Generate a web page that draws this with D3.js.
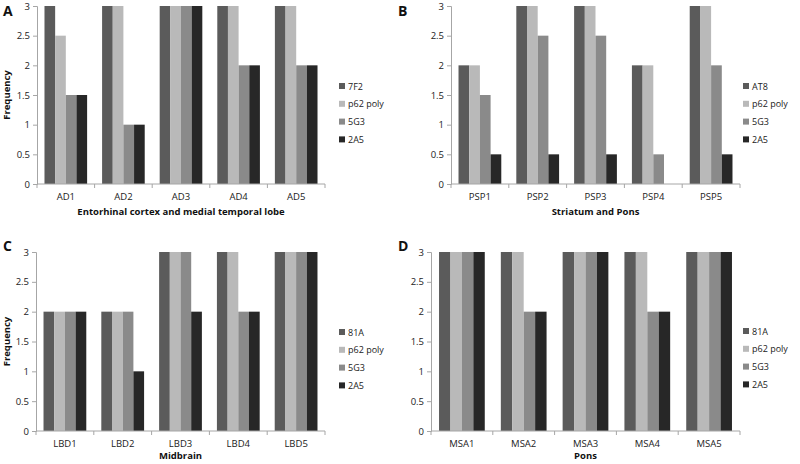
<!DOCTYPE html>
<html><head><meta charset="utf-8">
<script src="https://cdn.jsdelivr.net/npm/d3@7/dist/d3.min.js"></script>
<style>body{margin:0;background:#fff}svg{display:block}text{font-family:"Open Sans","Liberation Sans",Arial,sans-serif}</style>
</head><body><svg id="c" width="800" height="464"></svg>
<script>
// ---- data ----
const catsA = ["AD1","AD2","AD3","AD4","AD5"];
const catsB = ["PSP1","PSP2","PSP3","PSP4","PSP5"];
const catsC = ["LBD1","LBD2","LBD3","LBD4","LBD5"];
const catsD = ["MSA1","MSA2","MSA3","MSA4","MSA5"];
const seriesA = ["7F2","p62 poly","5G3","2A5"];
const seriesB = ["AT8","p62 poly","5G3","2A5"];
const seriesC = ["81A","p62 poly","5G3","2A5"];
const seriesD = ["81A","p62 poly","5G3","2A5"];
const valuesA = [[3,3,3,3,3],[2.5,3,3,3,3],[1.5,1,3,2,2],[1.5,1,3,2,2]];
const valuesB = [[2,3,3,2,3],[2,3,3,2,3],[1.5,2.5,2.5,0.5,2],[0.5,0.5,0.5,0,0.5]];
const valuesC = [[2,2,3,3,3],[2,2,3,3,3],[2,2,3,2,3],[2,1,2,2,3]];
const valuesD = [[3,3,3,3,3],[3,3,3,3,3],[3,2,3,2,3],[3,2,3,2,3]];
const yTicks = [0,0.5,1,1.5,2,2.5,3];
const titles = ["Entorhinal cortex and medial temporal lobe","Striatum and Pons","Midbrain","Pons"];
const letters = ["A","B","C","D"];
const colors = ["#5b5b5b","#b9b9b9","#8a8a8a","#272727"];

// ---- layout ----
const panels = [
  {cats:catsA, series:seriesA, values:valuesA, x0:37, x1:325, yT:6, yB:184, lx:339, ly:86, lt:[3,16], ylab:true, tOff:31},
  {cats:catsB, series:seriesB, values:valuesB, x0:451, x1:740, yT:6, yB:184, lx:743, ly:86, lt:[398,16], ylab:false, tOff:31},
  {cats:catsC, series:seriesC, values:valuesC, x0:36, x1:325, yT:252, yB:431, lx:339, ly:332, lt:[3,251], ylab:true, tOff:28},
  {cats:catsD, series:seriesD, values:valuesD, x0:431, x1:740, yT:252, yB:431, lx:743, ly:331, lt:[398,251], ylab:false, tOff:28}
];
const svg = d3.select("#c");
const axisCol = "#a6a6a6";
panels.forEach((p,i)=>{
  const g = svg.append("g");
  const x = d3.scaleBand().domain(p.cats).range([p.x0,p.x1]).paddingInner(0.26).paddingOuter(0.13);
  const xs = d3.scaleBand().domain(p.series).range([0,x.bandwidth()]);
  const y = d3.scaleLinear().domain([0,3]).range([p.yB,p.yT]);
  // bars
  p.series.forEach((s,si)=>{
    g.selectAll(null).data(p.cats).enter().append("rect")
      .attr("x",c=>x(c)+xs(s)).attr("width",xs.bandwidth())
      .attr("y",(c,ci)=>y(p.values[si][ci])).attr("height",(c,ci)=>p.yB-y(p.values[si][ci]))
      .attr("fill",colors[si]);
  });
  // y axis
  const ya = g.append("g").attr("transform",`translate(${p.x0},0)`)
    .call(d3.axisLeft(y).tickValues(yTicks).tickFormat(d3.format("")).tickSize(4).tickPadding(3));
  ya.select(".domain").attr("stroke",axisCol);
  ya.selectAll(".tick line").attr("stroke",axisCol);
  ya.selectAll("text").attr("font-size",9.5).attr("fill","#222");
  // x axis
  const xa = g.append("g").attr("transform",`translate(0,${p.yB})`)
    .call(d3.axisBottom(x).tickSize(0).tickPadding(9));
  xa.select(".domain").attr("stroke",axisCol).attr("d",`M${p.x0},0H${p.x1}`);
  xa.selectAll("text").attr("font-size",9.5).attr("fill","#222");
  // category boundary ticks
  const bounds = p.cats.map(c=>x(c)-x.step()*x.paddingInner()/2).concat([p.x1]);
  g.selectAll(null).data(bounds).enter().append("line")
    .attr("x1",d=>d).attr("x2",d=>d).attr("y1",p.yB).attr("y2",p.yB+4).attr("stroke",axisCol);
  // titles
  g.append("text").attr("x",(p.x0+p.x1)/2).attr("y",p.yB+p.tOff).attr("text-anchor","middle")
    .attr("font-size",9.5).attr("font-weight","bold").attr("fill","#111").text(titles[i]);
  if(p.ylab){
    g.append("text").attr("transform",`translate(10,${(p.yT+p.yB)/2}) rotate(-90)`)
      .attr("text-anchor","middle").attr("font-size",9.5).attr("font-weight","bold").attr("fill","#111").text("Frequency");
  }
  g.append("text").attr("x",p.lt[0]).attr("y",p.lt[1]).attr("font-size",14).attr("font-weight","bold")
    .attr("font-family","Liberation Sans, Arial, sans-serif").attr("fill","#111").text(letters[i]);
  // legend
  p.series.forEach((s,si)=>{
    const ly = p.ly + si*17.8;
    g.append("rect").attr("x",p.lx).attr("y",ly-3).attr("width",6).attr("height",6).attr("fill",colors[si]);
    g.append("text").attr("x",p.lx+9).attr("y",ly+3.5).attr("font-size",9).attr("fill","#222").text(s);
  });
});
</script></body></html>
